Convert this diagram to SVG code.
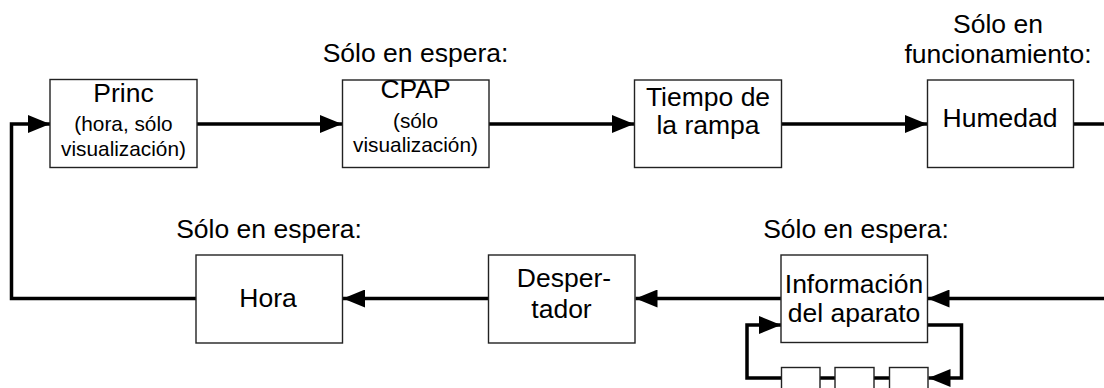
<svg xmlns="http://www.w3.org/2000/svg" width="1104" height="388" viewBox="0 0 1104 388">
<style>
.box{fill:#fff;stroke:#222;stroke-width:1.4}
.t{font-family:"Liberation Sans",Arial,sans-serif;fill:#000;text-anchor:middle}
.m{font-size:26.5px}
.s{font-size:20.8px}
.c{fill:none;stroke:#000;stroke-width:3.5}
</style>
<defs>
<marker id="ah" markerUnits="userSpaceOnUse" markerWidth="24" markerHeight="18" refX="22" refY="9" orient="auto">
<path d="M0,0 L22,9 L0,18 Z" fill="#000"/>
</marker>
</defs>
<g id="connectors">
<path class="c" d="M196,298.5 H11.5 V124 H50" marker-end="url(#ah)"/>
<path class="c" d="M197,124 H342" marker-end="url(#ah)"/>
<path class="c" d="M489,124 H634" marker-end="url(#ah)"/>
<path class="c" d="M782,124 H927" marker-end="url(#ah)"/>
<path class="c" d="M1073,124 H1110"/>
<path class="c" d="M1110,298.5 H927.5" marker-end="url(#ah)"/>
<path class="c" d="M781,298.5 H635.5" marker-end="url(#ah)"/>
<path class="c" d="M488,298.5 H343" marker-end="url(#ah)"/>
<path class="c" d="M928,325 H961.5 V378 H928.5" marker-end="url(#ah)"/>
<path class="c" d="M889,378 H874"/>
<path class="c" d="M835,378 H820"/>
<path class="c" d="M781,378 H747 V325 H781" marker-end="url(#ah)"/>
</g>
<g id="princ">
<rect class="box" x="50" y="79.5" width="147" height="88"/>
<text class="t m" x="123.5" y="102">Princ</text>
<text class="t s" x="123.5" y="131">(hora, sólo</text>
<text class="t s" x="123.5" y="156">visualización)</text>
</g>
<g id="cpap">
<text class="t m" x="415.5" y="62">Sólo en espera:</text>
<rect class="box" x="342.5" y="80" width="146.5" height="87.5"/>
<text class="t m" x="415.5" y="98">CPAP</text>
<text class="t s" x="415.5" y="128">(sólo</text>
<text class="t s" x="415.5" y="152">visualización)</text>
</g>
<g id="tiempo">
<rect class="box" x="634.5" y="80" width="147" height="87.5"/>
<text class="t m" x="708" y="106">Tiempo de</text>
<text class="t m" x="708" y="134">la rampa</text>
</g>
<g id="humedad">
<text class="t m" x="998" y="33">Sólo en</text>
<text class="t m" x="998" y="63">funcionamiento:</text>
<rect class="box" x="927.5" y="80" width="146" height="87.5"/>
<text class="t m" x="1000" y="127">Humedad</text>
</g>
<g id="hora">
<text class="t m" x="269" y="238">Sólo en espera:</text>
<rect class="box" x="196" y="255" width="146.5" height="88"/>
<text class="t m" x="268" y="307">Hora</text>
</g>
<g id="despertador">
<rect class="box" x="488.5" y="255" width="146.5" height="88"/>
<text class="t m" x="564" y="287">Desper-</text>
<text class="t m" x="561.5" y="318">tador</text>
</g>
<g id="info">
<text class="t m" x="856" y="238">Sólo en espera:</text>
<rect class="box" x="781" y="255" width="146.5" height="87.5"/>
<text class="t m" x="854" y="293">Información</text>
<text class="t m" x="854" y="322">del aparato</text>
</g>
<g id="sub1"><rect class="box" x="781.5" y="367.5" width="38.5" height="40"/></g>
<g id="sub2"><rect class="box" x="835" y="367.5" width="39" height="40"/></g>
<g id="sub3"><rect class="box" x="889.5" y="367.5" width="38.5" height="40"/></g>
</svg>
